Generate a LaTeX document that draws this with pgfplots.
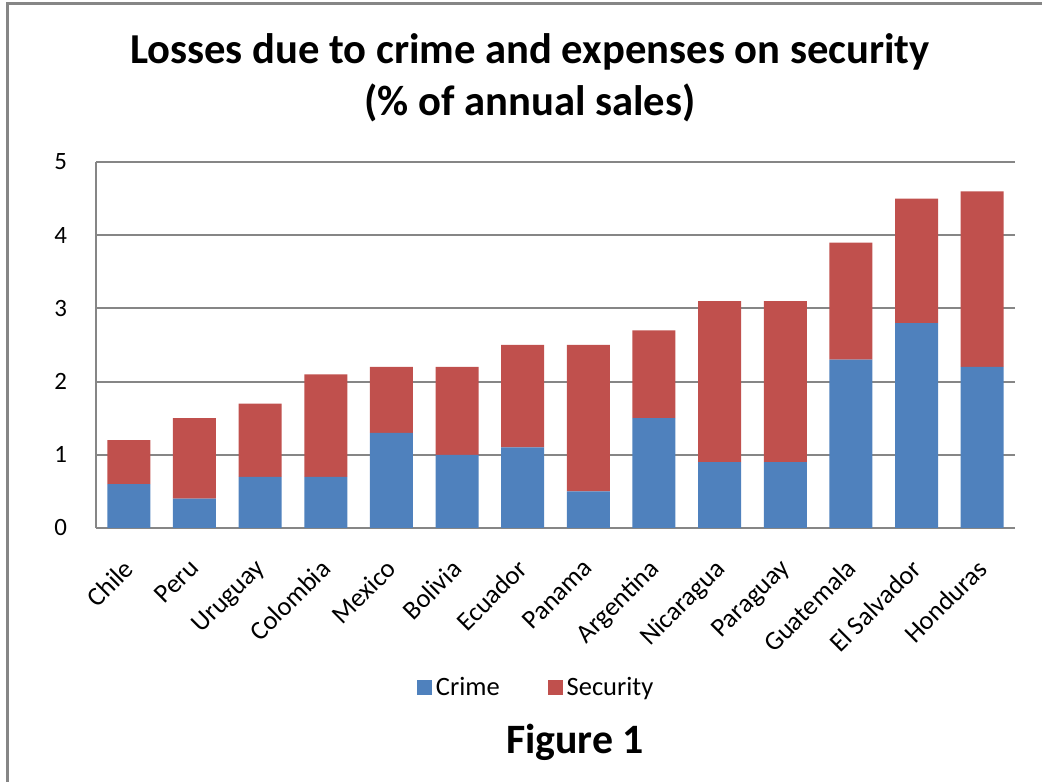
\documentclass[border=0pt]{standalone}
\usepackage{pgfplots}
\pgfplotsset{compat=1.18}
\usepackage{fontspec}
\setmainfont{Carlito}
\definecolor{crimeblue}{HTML}{4F81BD}
\definecolor{secred}{HTML}{C0504D}
\definecolor{framegray}{HTML}{868686}
\begin{document}
\begin{tikzpicture}
\useasboundingbox (0bp,0bp) rectangle (521bp,391bp);
\draw[framegray,line width=1.2bp] (3.75bp,0bp) -- (3.75bp,389.25bp) -- (521bp,389.25bp);
\node[font=\fontsize{21.4}{25}\selectfont\bfseries] at (265bp,365bp) {Losses due to crime and expenses on security};
\node[font=\fontsize{21.4}{25}\selectfont\bfseries] at (265bp,339.5bp) {(\% of annual sales)};
\node[font=\fontsize{21}{25}\selectfont\bfseries] at (287.5bp,20bp) {Figure 1};
\begin{axis}[
  at={(48bp,127bp)}, anchor=south west,
  scale only axis,
  width=459.5bp, height=183bp,
  ybar stacked,
  bar width=21.5bp,
  xmin=-0.5, xmax=13.5,
  ymin=0, ymax=5,
  ytick={0,1,2,3,4,5},
  xtick={0,...,13},
  xticklabels={Chile,Peru,Uruguay,Colombia,Mexico,Bolivia,Ecuador,Panama,Argentina,Nicaragua,Paraguay,Guatemala,El Salvador,Honduras},
  axis x line*=bottom, axis y line*=left,
  axis line style={framegray, line width=1bp, -},
  ymajorgrids, grid style={framegray, line width=1bp},
  major tick length=0pt,
  /pgf/number format/assume math mode=true,
  yticklabel style={font=\fontsize{12.5}{15}\selectfont, xshift=-11bp},
  xticklabel style={font=\fontsize{13.3}{16}\selectfont, rotate=45, anchor=north east, inner sep=0pt, xshift=-12.6bp, yshift=-8bp},
  legend style={draw=none, at={(0.48,-0.437)}, anchor=center, legend columns=2, font=\fontsize{13.3}{16}\selectfont, /tikz/every even column/.append style={column sep=22bp}},
  legend image code/.code={\fill[#1] (0bp,-3.75bp) rectangle (7.5bp,3.75bp);},
]
\addplot[fill=crimeblue, draw=none] coordinates {(0,0.6) (1,0.4) (2,0.7) (3,0.7) (4,1.3) (5,1.0) (6,1.1) (7,0.5) (8,1.5) (9,0.9) (10,0.9) (11,2.3) (12,2.8) (13,2.2)};
\addplot[fill=secred, draw=none] coordinates {(0,0.6) (1,1.1) (2,1.0) (3,1.4) (4,0.9) (5,1.2) (6,1.4) (7,2.0) (8,1.2) (9,2.2) (10,2.2) (11,1.6) (12,1.7) (13,2.4)};
\legend{Crime,Security}
\end{axis}
\end{tikzpicture}
\end{document}
